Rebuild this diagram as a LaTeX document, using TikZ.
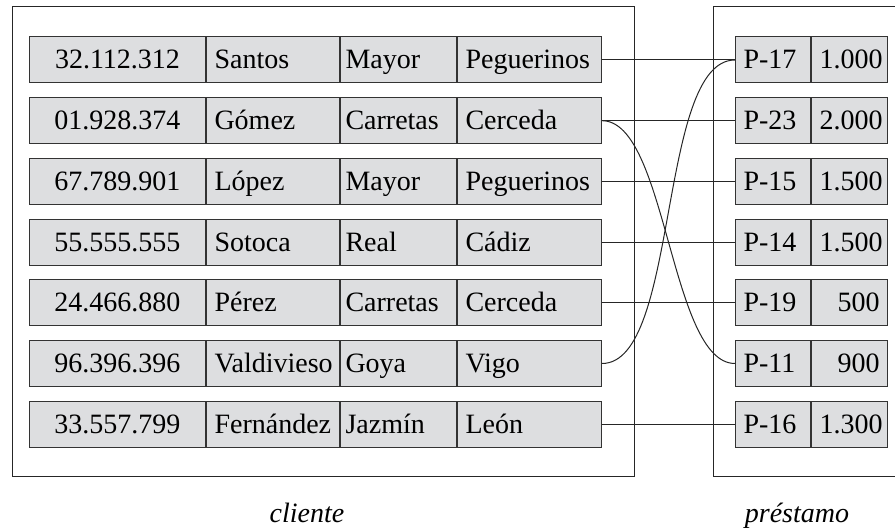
\documentclass[tikz,border=0pt]{standalone}
\usepackage{fontspec}
\setmainfont{Liberation Serif}
\usepackage{xcolor}
\tikzset{>=stealth}
\definecolor{celda}{RGB}{221,222,224}

\begin{document}
\begin{tikzpicture}[x=0.5pt,y=-0.5pt,
        campo/.style={draw=black!80, fill=celda, line width=0.5pt, anchor=west,
            minimum height=23pt, inner xsep=4pt, inner ysep=0pt,
            text height=9pt, text depth=0pt, font=\fontsize{14}{16}\selectfont},
        enlace/.style={line width=0.5pt, color=black!85},
        rotulo/.style={anchor=base, font=\fontsize{14}{16}\selectfont\itshape}]
        \def\fila{60.7}
        \def\primera{60}

        \useasboundingbox (0,0) rectangle (895,528);

        %relation cliente
        \draw[line width=0.5pt, color=black!85] (12,7) rectangle (634,477);
        \foreach \dni/\nom/\calle/\ciudad [count=\i] in {
            32.112.312/Santos/Mayor/Peguerinos,
            01.928.374/Gómez/Carretas/Cerceda,
            67.789.901/López/Mayor/Peguerinos,
            55.555.555/Sotoca/Real/Cádiz,
            24.466.880/Pérez/Carretas/Cerceda,
            96.396.396/Valdivieso/Goya/Vigo,
            33.557.799/Fernández/Jazmín/León}{
            \pgfmathsetmacro{\y}{\primera+\fila*(\i-1)}
            \node[campo, text width=80pt, align=center] (c\i-a) at (29,\y) {\dni};
            \node[campo, text width=58.5pt, align=left] (c\i-b) at (c\i-a.east) {\nom};
            \node[campo, text width=53pt, inner xsep=2.5pt, align=left] (c\i-c) at (c\i-b.east) {\calle};
            \node[campo, text width=64pt, align=left] (c\i-d) at (c\i-c.east) {\ciudad};
        }

        %relation prestamo
        \draw[line width=0.5pt, color=black!85] (895,7) -- (713,7) -- (713,477) -- (895,477);
        \foreach \cod/\imp [count=\i] in {P-17/1.000, P-23/2.000, P-15/1.500, P-14/1.500,
            P-19/500, P-11/900, P-16/1.300}{
            \pgfmathsetmacro{\y}{\primera+\fila*(\i-1)}
            \node[campo, text width=29.5pt, align=left] (p\i-a) at (735,\y) {\cod};
            \node[campo, text width=30pt, align=right] (p\i-b) at (p\i-a.east) {\imp};
        }

        %links
        \foreach \i in {1,2,3,4,5,7}
            \draw[enlace] (c\i-d.east) -- (p\i-a.west);
        \draw[enlace] (c2-d.east) to[out=0, in=180, looseness=0.6] (p6-a.west);
        \draw[enlace] (c6-d.east) to[out=0, in=180, looseness=0.6] (p1-a.west);

        %names
        \node[rotulo] (cliente) at (307,523) {cliente};
        \node[rotulo] (prestamo) at (797,523) {préstamo};
\end{tikzpicture}
\end{document}
